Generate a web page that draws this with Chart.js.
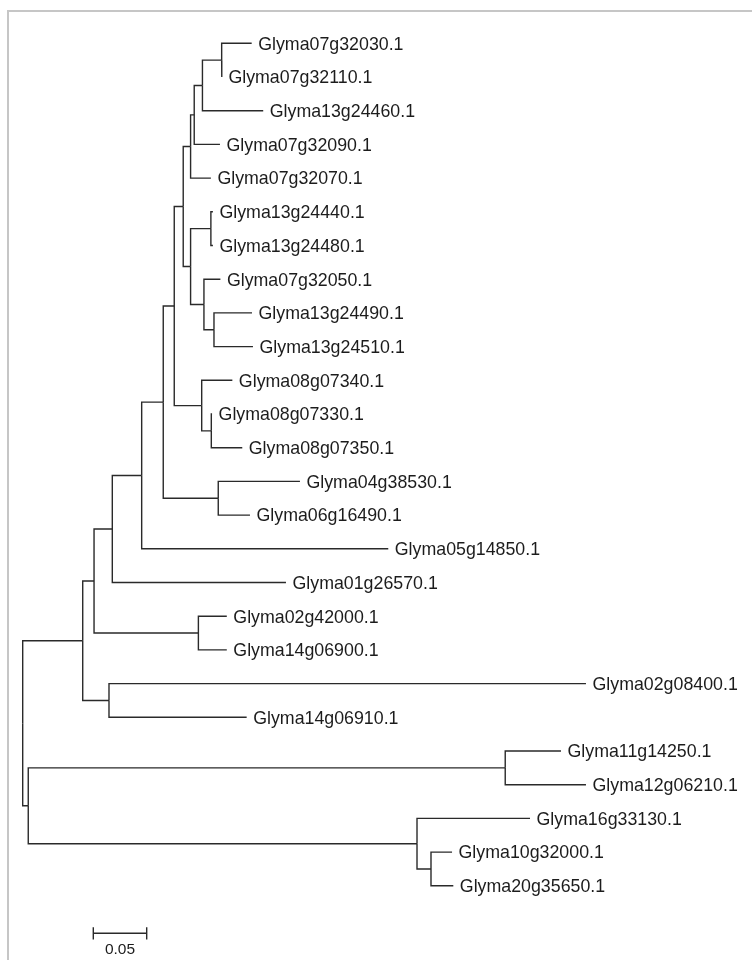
<!DOCTYPE html>
<html>
<head>
<meta charset="utf-8">
<title>Glyma tree</title>
<script src="https://cdn.jsdelivr.net/npm/chart.js@4.4.0/dist/chart.umd.min.js"></script>
<style>
html,body{margin:0;padding:0;background:#fff;}
#wrap{position:relative;width:752px;height:960px;overflow:hidden;}
#frame{position:absolute;left:7px;top:10px;width:800px;height:1000px;border-top:2px solid #c6c6c6;border-left:2px solid #c6c6c6;}
#tree{position:absolute;left:0;top:0;}
</style>
</head>
<body>
<div id="wrap">
  <div id="frame"></div>
  <canvas id="tree" width="752" height="960"></canvas>
</div>
<script>
// tree nodes: label ('' = inner node), parent index, branch length (subst./site)
const nodeLabels = [
  '', '', '', '', '', '', '', '', '', '', '', '',
  'Glyma07g32030.1', 'Glyma07g32110.1', 'Glyma13g24460.1', 'Glyma07g32090.1', 'Glyma07g32070.1',
  '', '', 'Glyma13g24440.1', 'Glyma13g24480.1', '', 'Glyma07g32050.1', '',
  'Glyma13g24490.1', 'Glyma13g24510.1',
  '', 'Glyma08g07340.1', '', 'Glyma08g07330.1', 'Glyma08g07350.1',
  '', 'Glyma04g38530.1', 'Glyma06g16490.1',
  'Glyma05g14850.1', 'Glyma01g26570.1',
  '', 'Glyma02g42000.1', 'Glyma14g06900.1',
  '', 'Glyma02g08400.1', 'Glyma14g06910.1',
  '', '', 'Glyma11g14250.1', 'Glyma12g06210.1',
  '', 'Glyma16g33130.1', '', 'Glyma10g32000.1', 'Glyma20g35650.1'
];
const nodeParent = [
  -1, 0, 1, 2, 3, 4, 5, 6, 7, 8, 9, 10,
  11, 11, 10, 9, 8,
  7, 17, 18, 18, 17, 21, 21,
  23, 23,
  6, 26, 26, 28, 28,
  5, 31, 31,
  4, 3,
  2, 36, 36,
  1, 39, 39,
  0, 42, 43, 43,
  42, 46, 46, 48, 48
];
const branchLength = [
  0, 0.0562, 0.0106, 0.0171, 0.0275, 0.0202, 0.0103, 0.0084, 0.0069, 0.0034, 0.0077, 0.0180,
  0.0281, 0.0002, 0.0569, 0.0241, 0.0190,
  0.0069, 0.0190, 0.0019, 0.0019, 0.0125, 0.0154, 0.0094,
  0.0356, 0.0365,
  0.0257, 0.0287, 0.0090, 0.0007, 0.0290,
  0.0515, 0.0765, 0.0297,
  0.2309, 0.1626,
  0.0977, 0.0266, 0.0266,
  0.0246, 0.4466, 0.1289,
  0.0052, 0.4466, 0.0522, 0.0756,
  0.3640, 0.1058, 0.0131, 0.0197, 0.0209
];
const scaleBarValue = 0.05;
const scaleBarLabel = '0.05';

// layout: x = distance from root, y = leaf row
const children = nodeLabels.map(() => []);
nodeParent.forEach((p, i) => { if (p >= 0) children[p].push(i); });
const nx = [], ny = [];
let row = 0;
function place(i, d) {
  nx[i] = d;
  if (children[i].length === 0) { ny[i] = row++; return; }
  children[i].forEach(c => place(c, d + branchLength[c]));
  const c = children[i];
  ny[i] = (ny[c[0]] + ny[c[c.length - 1]]) / 2;
}
place(0, 0);

const lineColor = '#2a2a2a';
const datasets = [];
nodeParent.forEach((p, i) => {
  if (p < 0) return;
  datasets.push({
    data: [{x: nx[p], y: ny[p]}, {x: nx[p], y: ny[i]}, {x: nx[i], y: ny[i]}]
  });
});

// scale bar
const barX = 0.0661, barRow = 26.41, tick = 0.18;
datasets.push({data: [{x: barX, y: barRow}, {x: barX + scaleBarValue, y: barRow}]});
datasets.push({data: [{x: barX, y: barRow - tick}, {x: barX, y: barRow + tick}]});
datasets.push({data: [{x: barX + scaleBarValue, y: barRow - tick}, {x: barX + scaleBarValue, y: barRow + tick}]});

datasets.forEach(ds => Object.assign(ds, {
  showLine: true, borderColor: lineColor, borderWidth: 1.4, pointRadius: 0,
  fill: false, tension: 0, clip: false
}));

const leafText = {
  id: 'leafText',
  afterDatasetsDraw(chart) {
    const {ctx, scales: {x, y}} = chart;
    ctx.save();
    ctx.fillStyle = '#1c1c1c';
    ctx.textAlign = 'left';
    ctx.textBaseline = 'alphabetic';
    ctx.font = '17.8px "Liberation Sans", Arial, sans-serif';
    nodeLabels.forEach((lab, i) => {
      if (!lab) return;
      ctx.fillText(lab, x.getPixelForValue(nx[i]) + 6.5, y.getPixelForValue(ny[i]) + 6.3);
    });
    ctx.font = '15.5px "Liberation Sans", Arial, sans-serif';
    ctx.textAlign = 'center';
    ctx.textBaseline = 'middle';
    ctx.fillText(scaleBarLabel, x.getPixelForValue(barX + scaleBarValue / 2), y.getPixelForValue(26.9));
    ctx.restore();
  }
};

new Chart(document.getElementById('tree'), {
  type: 'scatter',
  data: {datasets},
  options: {
    responsive: false,
    animation: false,
    layout: {padding: {left: 22.7, right: 35.1, top: 9.6, bottom: 6.8}},
    plugins: {legend: {display: false}, tooltip: {enabled: false}},
    scales: {
      x: {type: 'linear', min: 0, max: 0.65, display: false},
      y: {type: 'linear', min: -1, max: 27, reverse: true, display: false}
    }
  },
  plugins: [leafText]
});
</script>
</body>
</html>
